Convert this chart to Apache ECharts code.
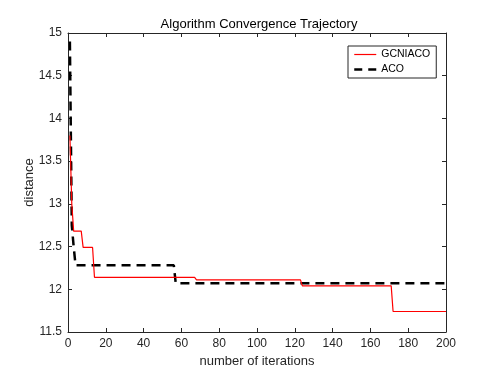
<!DOCTYPE html>
<html>
<head>
<meta charset="utf-8">
<script src="https://cdn.jsdelivr.net/npm/echarts@6/dist/echarts.min.js"></script>
<style>
html,body{margin:0;padding:0;background:#fff;}
#chart{width:480px;height:380px;}
</style>
</head>
<body>
<div id="chart"></div>
<script>
const titleText = 'Algorithm Convergence Trajectory';
const xName = 'number of iterations';
const yName = 'distance';
const seriesNames = ['GCNIACO', 'ACO'];
const gcniacoIter = [1, 2, 3, 7, 8, 13, 14, 67, 68, 123, 124, 171, 172, 200];
const gcniacoVal  = [13.8, 13.0, 12.68, 12.68, 12.49, 12.49, 12.14, 12.14, 12.11, 12.11, 12.04, 12.04, 11.74, 11.74];
const acoIter = [1, 2, 3, 4, 56, 57, 200];
const acoVal  = [14.9, 12.75, 12.5, 12.28, 12.28, 12.07, 12.07];
const xMin = 0, xMax = 200, xStep = 20;
const yMin = 11.5, yMax = 15, yStep = 0.5;

const pairs = (xs, ys) => xs.map((x, i) => [x, ys[i]]);
const axisColor = '#262626';
const font = 'Liberation Sans, Arial, Helvetica, sans-serif';

const chart = echarts.init(document.getElementById('chart'), null, {renderer: 'canvas'});
chart.setOption({
  backgroundColor: '#ffffff',
  animation: false,
  title: {
    text: titleText,
    left: 254, top: 13,
    textAlign: 'center',
    textStyle: {fontFamily: font, fontSize: 13, fontWeight: 'normal', color: '#000'}
  },
  grid: {left: 68, right: 34, top: 33, bottom: 48, containLabel: false},
  legend: {
    orient: 'vertical',
    left: 348, top: 46,
    padding: [3, 6, 3, 5],
    itemGap: 4,
    itemWidth: 22, itemHeight: 10,
    borderColor: axisColor, borderWidth: 1, borderRadius: 0,
    backgroundColor: '#fff',
    itemStyle: {opacity: 0},
    textStyle: {fontFamily: font, fontSize: 10.5, color: '#000'},
    data: [
      {name: seriesNames[0], lineStyle: {color: '#ff0000', width: 1.2, type: 'solid'}},
      {name: seriesNames[1], lineStyle: {color: '#000000', width: 2.5, type: [8, 6]}}
    ]
  },
  xAxis: [{
    type: 'value', min: xMin, max: xMax, interval: xStep,
    name: xName, nameLocation: 'middle', nameGap: 21,
    nameTextStyle: {fontFamily: font, fontSize: 13, color: axisColor},
    axisLine: {show: true, lineStyle: {color: axisColor, width: 1}},
    axisTick: {show: true, inside: true, length: 4, lineStyle: {color: axisColor}},
    axisLabel: {fontFamily: font, fontSize: 12, color: axisColor, margin: 6},
    splitLine: {show: false}
  }, {
    type: 'value', min: xMin, max: xMax, interval: xStep, position: 'top',
    axisLine: {show: true, onZero: false, lineStyle: {color: axisColor, width: 1}},
    axisTick: {show: true, inside: true, length: 4, lineStyle: {color: axisColor}},
    axisLabel: {show: false}, splitLine: {show: false}
  }],
  yAxis: [{
    type: 'value', min: yMin, max: yMax, interval: yStep,
    name: yName, nameLocation: 'middle', nameGap: 32, nameRotate: 90,
    nameMoveOverlap: false,
    nameTextStyle: {fontFamily: font, fontSize: 13, color: axisColor},
    axisLine: {show: true, onZero: false, lineStyle: {color: axisColor, width: 1}},
    axisTick: {show: true, inside: true, length: 4, lineStyle: {color: axisColor}},
    axisLabel: {fontFamily: font, fontSize: 12, color: axisColor, margin: 6},
    splitLine: {show: false}
  }, {
    type: 'value', min: yMin, max: yMax, interval: yStep, position: 'right',
    axisLine: {show: true, onZero: false, lineStyle: {color: axisColor, width: 1}},
    axisTick: {show: true, inside: true, length: 4, lineStyle: {color: axisColor}},
    axisLabel: {show: false}, splitLine: {show: false}
  }],
  series: [{
    name: seriesNames[0], type: 'line', xAxisIndex: 0, yAxisIndex: 0,
    data: pairs(gcniacoIter, gcniacoVal),
    symbol: 'none', color: '#ff0000',
    lineStyle: {color: '#ff0000', width: 1.2}, z: 3
  }, {
    name: seriesNames[1], type: 'line', xAxisIndex: 0, yAxisIndex: 0,
    data: pairs(acoIter, acoVal),
    symbol: 'none', color: '#000000',
    lineStyle: {color: '#000000', width: 2.5, type: [9, 6]}, z: 2
  }]
});
</script>
</body>
</html>
